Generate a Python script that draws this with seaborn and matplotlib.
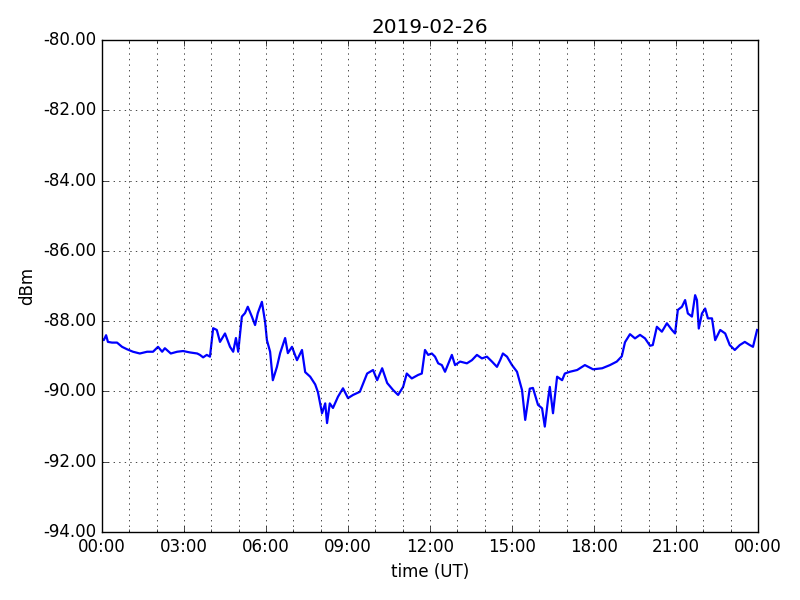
import pandas as pd
import numpy as np
import matplotlib
matplotlib.use("Agg")
import matplotlib.pyplot as plt
import matplotlib.dates as mdates
import seaborn as sns

# Signal level (minutes after midnight UT, dBm)
minutes = [0, 4, 9, 13, 22, 33, 44, 55, 68, 83, 99, 112, 123, 132, 138, 151,
           165, 178, 193, 209, 215, 222, 230, 237,
           244, 252, 259, 270, 281, 288, 294, 299, 307, 314, 320, 329, 336, 342,
           351, 358, 362, 369, 375, 384, 391, 402, 408, 417, 428, 439, 446, 457,
           468, 474, 483, 490, 494, 500, 507, 518, 529, 540, 551, 566, 582, 595,
           604, 615, 626, 639, 650, 661, 669, 680, 694,
           702, 709, 716, 724, 731, 738, 746, 753, 759, 768, 775, 786, 801, 812,
           823, 834, 845, 856, 867, 874, 880, 889, 900, 911,
           922, 929, 939, 946, 957, 966, 972, 979, 983, 990, 999, 1010, 1016,
           1027, 1043, 1060, 1078, 1098, 1115, 1130, 1141, 1148, 1159, 1170,
           1181, 1192, 1203, 1209, 1218, 1229, 1240, 1251, 1258, 1264, 1273,
           1280, 1286, 1295, 1302, 1306, 1310, 1317, 1324, 1330, 1339, 1346,
           1357, 1368, 1378, 1389, 1400, 1411, 1422, 1429, 1438]
dbm = [-88.50, -88.54, -88.40, -88.59, -88.61, -88.61, -88.73, -88.80, -88.87,
       -88.92, -88.87, -88.87, -88.73, -88.87, -88.77, -88.92, -88.87, -88.85,
       -88.89, -88.92, -88.96, -89.03, -88.96, -89.01,
       -88.20, -88.25, -88.59,
       -88.35, -88.73, -88.87, -88.48, -88.87, -87.87, -87.77, -87.59, -87.87,
       -88.11, -87.77, -87.45, -88.02, -88.54, -88.87, -89.68, -89.30, -88.91,
       -88.48, -88.91, -88.73, -89.11, -88.82, -89.45, -89.58, -89.80, -90.02,
       -90.62, -90.34, -90.90, -90.34, -90.47, -90.15, -89.91, -90.19, -90.10,
       -90.01, -89.49, -89.39, -89.68, -89.34, -89.76, -89.96, -90.10, -89.87,
       -89.49, -89.63, -89.53,
       -89.49, -88.82, -88.96, -88.92, -89.01, -89.20, -89.25, -89.44, -89.25,
       -88.96, -89.25, -89.15, -89.20, -89.11, -88.96, -89.06, -89.01, -89.15,
       -89.30, -89.11, -88.92, -89.01, -89.25, -89.44,
       -89.96, -90.81, -89.92, -89.90, -90.38,
       -90.48, -91.00, -90.24, -89.87, -90.62, -89.58, -89.68, -89.49, -89.44,
       -89.39, -89.25, -89.37, -89.34, -89.25, -89.15, -89.00, -88.60, -88.37,
       -88.49, -88.39, -88.49, -88.70, -88.68, -88.16, -88.30, -88.06, -88.25,
       -88.35, -87.68, -87.59, -87.40, -87.78, -87.87, -87.26, -87.40, -88.21,
       -87.78, -87.64, -87.92, -87.92, -88.54, -88.25, -88.35, -88.68, -88.82,
       -88.68, -88.59, -88.68, -88.73, -88.25]

day = pd.Timestamp("2019-02-26")
df = pd.DataFrame({
    "time": day + pd.to_timedelta(minutes, unit="min"),
    "dBm": dbm,
})

plt.style.use("classic")
fig, ax = plt.subplots(figsize=(8, 6), dpi=100)
fig.patch.set_facecolor("white")
fig.subplots_adjust(left=0.1275, right=0.9475, top=0.9333, bottom=0.1133)

sns.lineplot(data=df, x="time", y="dBm", color="blue", linewidth=1.6, ax=ax)

ax.set_xlim(day, day + pd.Timedelta(days=1))
ax.set_ylim(-94, -80)
ax.set_yticks(np.arange(-94, -79, 2))
ax.yaxis.set_major_formatter(matplotlib.ticker.FormatStrFormatter("%.2f"))
ax.xaxis.set_major_locator(mdates.HourLocator(byhour=range(0, 24, 3)))
ax.xaxis.set_minor_locator(mdates.HourLocator())
ax.xaxis.set_major_formatter(mdates.DateFormatter("%H:%M"))

ax.grid(True, which="both", axis="x", linestyle=":", color="black")
ax.grid(True, which="major", axis="y", linestyle=":", color="black")

ax.set_title("2019-02-26")
ax.set_xlabel("time (UT)")
ax.set_ylabel("dBm")

fig.savefig("out.png", dpi=100, facecolor="white")
